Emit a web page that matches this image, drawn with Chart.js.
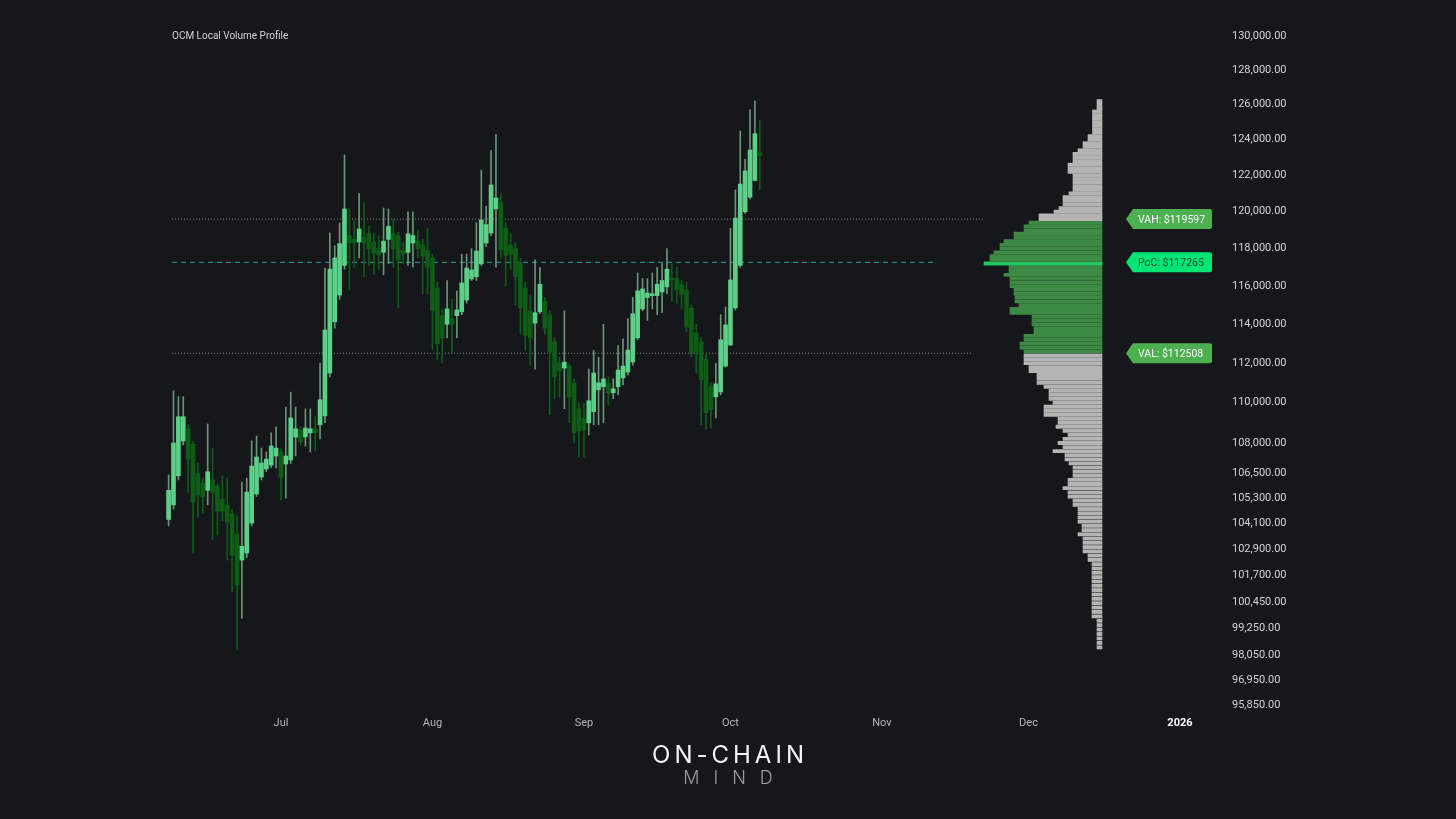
<!DOCTYPE html>
<html lang="en">
<head>
  <meta charset="UTF-8">
  <title>OCM Local Volume Profile</title>
  <script src="https://cdn.jsdelivr.net/npm/chart.js"></script>
  <style>
    body { margin: 0; background: #16171b; }
    .tela { position: relative; width: 1456px; height: 819px; }
    .titulo { position: absolute; left: 172px; top: 30px; font: 10px Roboto, sans-serif; color: #d1d4dc; }
    .logo { position: absolute; width: 1456px; text-align: center; font-family: Inter, sans-serif; }
    .on { left: 2px; top: 740px; font-size: 24px; font-weight: 400; letter-spacing: 4px; color: #f4f4f4; }
    .mind { left: 7px; top: 767px; font-size: 18px; font-weight: 300; letter-spacing: 14px; color: #9d9d9d; }
  </style>
</head>
<body>
<div class="tela">
  <canvas id="grafico"></canvas>
  <div class="titulo">OCM Local Volume Profile</div>
  <div class="logo on">ON-CHAIN</div>
  <div class="logo mind">MIND</div>
</div>

<script>
// dia 0 = 1 jul 2025, primeira vela = 8 jun
var firstDay = -23

var opens = [104300,105000,106400,108100,108700,107950,106500,106050,105700,106200,105900,105280,104990,104560,103610,102390,102720,104130,105520,106340,106730,106920,107360,
  107560,106970,107170,108290,108640,108300,108500,108700,108900,109340,
  111500,114130,115530,117100,118700,118500,118360,118600,118800,118350,
  118030,117800,118500,118800,118700,117900,117800,118300,118400,118200,
  117900,117500,115900,114450,114000,114300,114450,114650,115270,116380,
  116500,117180,118300,118840,120150,120500,119100,118200,118000,117230,
  115900,114700,114060,114650,115200,114500,113100,112000,111750,111850,
  110990,109700,109230,109000,109550,110650,110800,110990,110500,110800,
  111250,111550,112060,113300,114800,115400,115500,115500,115700,115960,
  116430,116430,116070,115800,114850,113550,113100,112200,110800,110300,
  110540,111850,112930,114860,117100,120000,120800,121720,123300]
var highs = [106440,110600,110300,110300,108900,108100,107000,106300,108940,107750,106000,106400,106300,104800,104500,106100,106290,108100,108340,107750,107560,108500,108800,
  107700,109780,110530,109780,108800,109690,109690,109300,112000,116960,
  118850,118150,119380,123150,120150,119500,121000,120500,119200,118800,
  118700,120200,120150,119600,118900,118300,120000,120000,119000,118500,
  119100,117700,116200,114800,116300,115300,115750,117700,117700,118000,
  119400,122300,120300,123400,124300,121000,119400,118800,118300,117500,
  116200,115500,117400,117000,115400,114700,113300,112300,114700,112000,
  111200,110000,110000,111700,112650,112300,114000,111300,111200,112900,
  113250,114300,115400,116700,116400,116400,116700,117000,117200,118000,
  117200,117000,116300,116200,115000,114000,113300,112500,111000,112000,
  114500,114900,119100,121200,124500,122900,125700,126200,125100]
var lows = [104000,104800,106200,107900,105600,102720,104420,104600,105000,103330,103570,104250,102390,100910,98280,99720,102500,104000,105400,106200,106600,106800,106780,
  105230,105320,107000,107360,107900,107850,107560,107600,108200,109000,
  111300,113800,115300,116900,115800,117000,117500,116500,117100,116600,
  116900,116600,117200,117000,114850,117200,117100,117000,117500,115600,
  115600,112700,112160,112000,113300,112500,113300,114500,115100,116300,
  116300,117100,118100,118700,117000,117500,116000,116900,115000,113500,
  112670,111900,111700,114550,113500,109400,110200,110300,109700,109000,
  108000,107300,107300,108400,108900,108900,109000,109900,110200,110400,
  110900,111400,111900,113200,114700,114200,114800,114500,114600,115600,
  115200,115100,114800,113600,112300,111500,108900,108700,108750,109240,
  110400,111800,112900,114750,117000,119900,120700,121700,121200]
var closes = [105700,108000,109300,109300,107200,105130,105470,105370,106600,105600,104700,104700,104180,102620,101230,103040,105610,106870,107310,107020,107210,107850,107750,
  106340,107360,109240,108700,108050,108740,108700,108500,110150,113700,
  116900,117500,118270,120150,118300,118300,119060,118300,118000,117760,
  117650,118400,119200,118000,117400,117700,118800,118700,118000,117600,
  117000,114700,113000,113300,114800,114000,114750,116170,116960,116860,
  117870,119550,119300,121470,120750,117930,117650,117700,116500,114850,
  113450,113300,114600,116100,113800,112570,111300,111600,112050,110300,
  108500,108600,108640,110100,111500,111000,111200,110500,110700,111650,
  111850,112670,114550,115750,115850,115640,115600,116100,116300,116900,
  116330,115800,115560,113850,112500,112600,111150,109500,109650,110950,
  113200,113970,116330,119650,121520,122250,123420,124340,123100]

// perfil de volume: niveis de 200 a partir de 98.400
var vpLow = 98400
var vpStep = 200
var vpVolumes = [5,5,5,5,5,5,5,10,10,10,10,10,10,10,10,10,10,10,10,10,
  14,14,19,19,19,19,24,20,20,24,24,24,24,29,29,34,34,39,34,34,
  29,29,29,33,37,37,49,39,44,39,34,39,46,44,44,58,58,58,49,53,
  53,53,58,65,65,65,73,73,78,78,78,78,82,82,78,78,68,68,70,70,
  70,92,92,83,87,87,88,88,92,92,92,98,93,93,118,112,112,108,102,102,
  98,88,88,78,78,73,63,63,48,43,39,39,39,33,29,29,29,29,29,34,
  34,34,29,29,29,24,19,19,14,14,9.5,9.5,9.5,9.5,9.5,9.5,9.5,5,5,5]

var VAH = 119597
var POC = 117265
var VAL = 112508
var lineStart = -22.3
var lineEnds = [143.7, 133.9, 141.6]

var yTicks = [130000,128000,126000,124000,122000,120000,118000,116000,114000,112000,110000,108000,106500,105300,104100,102900,101700,100450,99250,98050,96950,95850]
var yLabels = ['130,000.00','128,000.00','126,000.00','124,000.00','122,000.00','120,000.00','118,000.00','116,000.00','114,000.00','112,000.00','110,000.00','108,000.00','106,500.00','105,300.00','104,100.00','102,900.00','101,700.00','100,450.00','99,250.00','98,050.00','96,950.00','95,850.00']
var xTicks = [0, 31, 62, 92, 123, 153, 184]
var xLabels = ['Jul', 'Aug', 'Sep', 'Oct', 'Nov', 'Dec', '2026']

var upColor = '#5ccf88'
var downColor = '#0f5c17'

var wicks = []
var bodies = []
var wickColors = []
var bodyColors = []
for (var i = 0; i < opens.length; i++) {
  var d = firstDay + i
  wicks.push({ x: d, y: [lows[i], highs[i]] })
  bodies.push({ x: d, y: [opens[i], closes[i]] })
  var up = closes[i] >= opens[i]
  bodyColors.push(up ? upColor : downColor)
  wickColors.push(up ? 'rgba(120,170,135,0.85)' : downColor)
}

var vpData = []
var vpColors = []
for (var k = 0; k < vpVolumes.length; k++) {
  var preco = vpLow + k * vpStep
  vpData.push({ x: vpVolumes[k], y: preco })
  if (Math.abs(preco - POC) <= vpStep / 2) vpColors.push('#22c862')
  else if (preco >= VAL && preco <= VAH) vpColors.push('#3c8a44')
  else vpColors.push('#b4b4b4')
}

function linha(valor, fim) {
  return [{ x: lineStart, y: valor }, { x: fim, y: valor }]
}

var tagNames = ['VAH', 'PoC', 'VAL']
var tagValues = [VAH, POC, VAL]
var tagFill = ['#4caf50', '#00e676', '#4caf50']
var tagText = ['#ffffff', '#0b4a26', '#ffffff']

var tagPlugin = {
  id: 'tags',
  afterDatasetsDraw: function (chart) {
    var ctx = chart.ctx
    var yScale = chart.scales.y
    var x0 = chart.chartArea.right - 96
    ctx.save()
    ctx.font = '10.5px Roboto'
    ctx.textBaseline = 'middle'
    for (var t = 0; t < tagNames.length; t++) {
      var py = yScale.getPixelForValue(tagValues[t])
      ctx.fillStyle = tagFill[t]
      ctx.beginPath()
      ctx.moveTo(x0, py)
      ctx.lineTo(x0 + 7, py - 10)
      ctx.lineTo(x0 + 84, py - 10)
      ctx.quadraticCurveTo(x0 + 86, py - 10, x0 + 86, py - 8)
      ctx.lineTo(x0 + 86, py + 8)
      ctx.quadraticCurveTo(x0 + 86, py + 10, x0 + 84, py + 10)
      ctx.lineTo(x0 + 7, py + 10)
      ctx.closePath()
      ctx.fill()
      ctx.fillStyle = tagText[t]
      ctx.fillText(tagNames[t] + ': $' + tagValues[t], x0 + 12, py + 1)
    }
    ctx.restore()
  }
}

Chart.defaults.font.family = 'Roboto'

const ctx = document.getElementById('grafico')

new Chart(ctx, {
  type: 'bar',
  data: {
    datasets: [
      { data: bodies, backgroundColor: bodyColors, barThickness: 4, minBarLength: 1, grouped: false, order: 1 },
      { data: wicks, backgroundColor: wickColors, barThickness: 1, grouped: false, order: 2 },
      { data: vpData, indexAxis: 'y', xAxisID: 'xv', yAxisID: 'y', backgroundColor: vpColors, barThickness: 3.2, grouped: false, order: 3 },
      { type: 'line', data: linha(VAH, lineEnds[0]), borderColor: '#7d8a88', borderWidth: 1, borderDash: [1, 2], pointRadius: 0, order: 10 },
      { type: 'line', data: linha(POC, lineEnds[1]), borderColor: '#26a69a', borderWidth: 1, borderDash: [5, 4], pointRadius: 0, order: 10 },
      { type: 'line', data: linha(VAL, lineEnds[2]), borderColor: '#7d8a88', borderWidth: 1, borderDash: [1, 2], pointRadius: 0, order: 10 }
    ]
  },
  options: {
    responsive: true,
    maintainAspectRatio: false,
    animation: false,
    events: [],
    layout: { padding: { top: 36, left: 160, right: 0, bottom: 90 } },
    plugins: { legend: { display: false }, tooltip: { enabled: false } },
    scales: {
      x: {
        type: 'linear',
        offset: false,
        min: -24.76,
        max: 192.6,
        grid: { display: false, drawTicks: false },
        border: { display: false },
        afterBuildTicks: function (s) { s.ticks = xTicks.map(function (v) { return { value: v } }) },
        afterFit: function (s) { s.height = 24 },
        ticks: {
          padding: 12,
          autoSkip: false,
          maxRotation: 0,
          color: function (c) { return c.index === 6 ? '#ffffff' : '#b2b5be' },
          font: function (c) { return c.index === 6 ? { size: 11, weight: 'bold' } : { size: 11 } },
          callback: function (v, i) { return xLabels[i] }
        }
      },
      xv: {
        type: 'linear',
        display: false,
        offset: false,
        reverse: true,
        min: -120,
        max: 942
      },
      y: {
        type: 'logarithmic',
        position: 'right',
        offset: false,
        min: 95850,
        max: 130000,
        grid: { display: false, drawTicks: false },
        border: { display: false },
        afterBuildTicks: function (s) { s.ticks = yTicks.map(function (v) { return { value: v } }) },
        afterFit: function (s) { s.width = 234 },
        ticks: {
          padding: 10,
          autoSkip: false,
          color: '#d1d4dc',
          font: { size: 11 },
          callback: function (v, i) { return yLabels[i] }
        }
      }
    }
  },
  plugins: [tagPlugin]
})
</script>
</body>
</html>
